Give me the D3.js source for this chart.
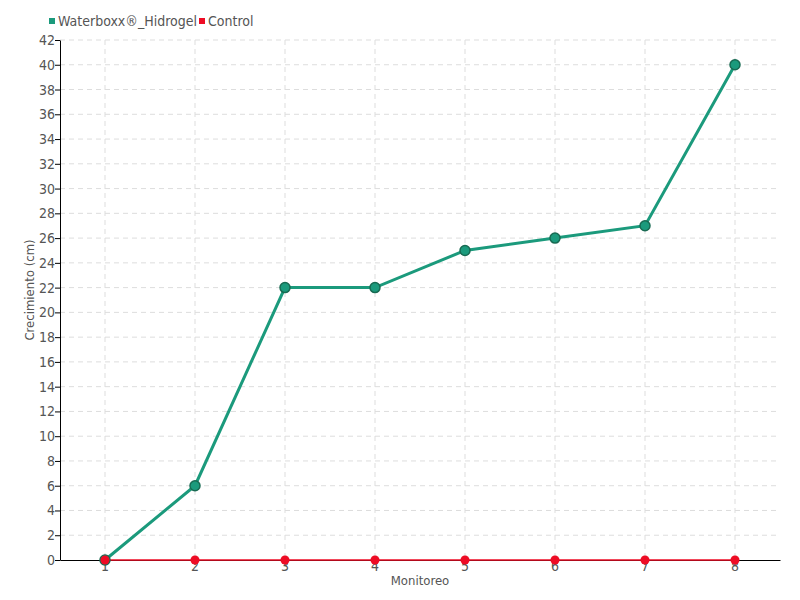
<!DOCTYPE html>
<html>
<head>
<meta charset="utf-8">
<script src="https://cdn.jsdelivr.net/npm/d3@7"></script>
<style>
  body { margin: 0; background: #fff; }
  text { font-family: "DejaVu Sans Condensed", "DejaVu Sans", sans-serif; font-stretch: condensed; fill: #555; }
  .grid line { stroke: #ddd; stroke-dasharray: 5,4; }
</style>
</head>
<body>
<div id="chart"></div>
<script>
// data
var monitoreo = ["1", "2", "3", "4", "5", "6", "7", "8"];
var waterboxx = [0, 6, 22, 22, 25, 26, 27, 40];
var control = [0, 0, 0, 0, 0, 0, 0, 0];
var yTicks = d3.range(0, 43, 2);

var margin = {top: 40, right: 20, bottom: 40, left: 60},
    width = 800 - margin.left - margin.right,
    height = 600 - margin.top - margin.bottom;

var svg = d3.select("#chart")
  .append("svg")
  .attr("width", 800)
  .attr("height", 600)
  .append("g")
    .attr("transform", "translate(" + margin.left + "," + margin.top + ")");

var x = d3.scaleBand()
  .domain(monitoreo)
  .range([0, width]);

var y = d3.scaleLinear()
  .domain([0, 42])
  .range([height, 0]);

var cx = function(d, i){ return x(monitoreo[i]) + x.bandwidth() / 2; };

// grid
var grid = svg.append("g").attr("class", "grid");
grid.selectAll(".h")
  .data(yTicks.slice(1))
  .enter().append("line")
    .attr("x1", 0).attr("x2", width)
    .attr("y1", function(d){ return y(d); })
    .attr("y2", function(d){ return y(d); });
grid.selectAll(".v")
  .data(monitoreo)
  .enter().append("line")
    .attr("x1", function(d){ return x(d) + x.bandwidth() / 2; })
    .attr("x2", function(d){ return x(d) + x.bandwidth() / 2; })
    .attr("y1", 0).attr("y2", height);

// axes
var yAxis = svg.append("g")
  .call(d3.axisLeft(y).tickValues(yTicks).tickSize(5).tickSizeOuter(0));
yAxis.selectAll("text").style("font-size", "14px").attr("x", -5);

var xAxis = svg.append("g")
  .attr("transform", "translate(0," + height + ")")
  .call(d3.axisBottom(x).tickSize(5).tickSizeOuter(0));
xAxis.selectAll("text").style("font-size", "14px").attr("y", 1);
svg.selectAll(".domain, .tick line").attr("stroke", "#000");

// axis labels
svg.append("text")
  .attr("x", width / 2)
  .attr("y", height + 25)
  .attr("text-anchor", "middle")
  .style("font-size", "13px")
  .text("Monitoreo");

svg.append("text")
  .attr("transform", "rotate(-90)")
  .attr("x", -height / 2 + 10)
  .attr("y", -26)
  .attr("text-anchor", "middle")
  .style("font-size", "13px")
  .text("Crecimiento (cm)");

// lines
var line = function(vals){
  return d3.line()
    .x(function(d, i){ return cx(d, i); })
    .y(function(d){ return y(d); })(vals);
};

svg.append("path")
  .attr("d", line(control))
  .attr("fill", "none")
  .attr("stroke", "#ee0c25")
  .attr("stroke-width", 1.5);

svg.append("path")
  .attr("d", line(waterboxx))
  .attr("fill", "none")
  .attr("stroke", "#1b9a7c")
  .attr("stroke-width", 3);

svg.selectAll(".dotg")
  .data(waterboxx)
  .enter().append("circle")
    .attr("cx", cx)
    .attr("cy", function(d){ return y(d); })
    .attr("r", 5)
    .attr("fill", "#1b9a7c")
    .attr("stroke", "#186a52")
    .attr("stroke-width", 1.5);

svg.selectAll(".dotr")
  .data(control)
  .enter().append("circle")
    .attr("cx", cx)
    .attr("cy", function(d){ return y(d); })
    .attr("r", 4.5)
    .attr("fill", "#ee0c25");

// legend
var legend = d3.select("svg").append("g");
var legendItems = [
  {name: "Waterboxx\u00ae_Hidrogel", color: "#1b9a7c", x: 49},
  {name: "Control", color: "#ee0c25", x: 199}
];
legendItems.forEach(function(l){
  legend.append("rect")
    .attr("x", l.x).attr("y", 18)
    .attr("width", 6).attr("height", 6)
    .attr("fill", l.color);
  legend.append("text")
    .attr("x", l.x + 9).attr("y", 26)
    .style("font-size", "14px")
    .text(l.name);
});
</script>
</body>
</html>
